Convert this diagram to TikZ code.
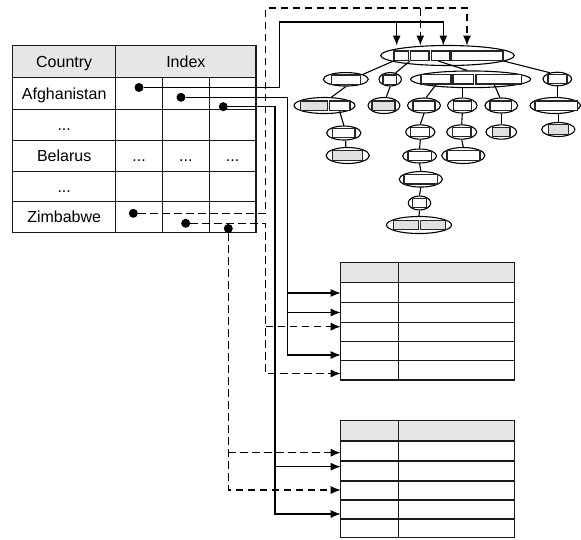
\documentclass[tikz,border=0pt]{standalone}
\usepackage{fontspec}
\setmainfont{Liberation Sans}
\usetikzlibrary{shapes.geometric,arrows.meta,calc}
\definecolor{hdr}{RGB}{230,230,230}
\definecolor{lgray}{RGB}{224,224,224}
\newcommand\mkell[5]{\node[ell,minimum width=#4pt,minimum height=#5pt] (#1) at (#2,#3) {};}
\newcommand\mkbox[5]{\node[#5,minimum width=#4pt] (#1) at (#2,#3) {};}
\begin{document}
\begin{tikzpicture}[x=1pt,y=-1pt,
  ln/.style={line width=1.2pt},
  dsh/.style={line width=1.2pt,dash pattern=on 7.5pt off 4.5pt},
  arr/.style={-{Latex[length=10pt,width=8pt]}},
  dotn/.style={circle,fill=black,inner sep=0pt,minimum size=9pt},
  txt/.style={font=\fontsize{16}{19}\selectfont,inner sep=0pt,text height=11.5pt,text depth=0pt},
  ell/.style={ellipse,draw,line width=1.1pt,fill=white,inner sep=0pt},
  bx/.style={draw=black!85,line width=1.4pt,fill=white,inner sep=0pt,minimum height=9.5pt},
  gb/.style={bx,fill=lgray},
  tgrid/.style={line width=1.2pt,draw=black!90},
  tedge/.style={line width=1.1pt},
]
\useasboundingbox (0,0) rectangle (581,539);

% ---------- left table ----------
\fill[hdr] (12.7,45.7) rectangle (256,77.3);
\draw[tgrid] (12.7,45.7) rectangle (256,232.7);
\foreach \yy in {77.3,109.3,140.7,171.7,201.7} \draw[tgrid] (12.7,\yy) -- (256,\yy);
\draw[tgrid] (115.7,45.7) -- (115.7,232.7);
\draw[tgrid] (162.5,77.3) -- (162.5,232.7);
\draw[tgrid] (209.2,77.3) -- (209.2,232.7);
\node[txt] (hcountry) at (64.2,61.5) {Country};
\node[txt] (hindex) at (185.85,61.5) {Index};
\node[txt] (afg) at (64.2,93.3) {Afghanistan};
\node[txt] (e1) at (64.2,124.7) {...};
\node[txt] (bel) at (64.2,155.7) {Belarus};
\node[txt] (be1) at (139.1,155.7) {...};
\node[txt] (be2) at (185.85,155.7) {...};
\node[txt] (be3) at (232.6,155.7) {...};
\node[txt] (e2) at (64.2,186.7) {...};
\node[txt] (zim) at (64.2,217.2) {Zimbabwe};

% ---------- table 1 ----------
\fill[hdr] (340.7,262.3) rectangle (514.3,282.3);
\draw[tgrid] (340.7,262.3) rectangle (514.3,380);
\foreach \yy in {282.3,302.3,322.3,341.3,360.5} \draw[tgrid] (340.7,\yy) -- (514.3,\yy);
\draw[tgrid] (398.3,262.3) -- (398.3,380);

% ---------- table 2 ----------
\fill[hdr] (340.7,420.7) rectangle (514.3,441);
\draw[tgrid] (340.7,420.7) rectangle (514.3,537.7);
\foreach \yy in {441,461,481,500,519} \draw[tgrid] (340.7,\yy) -- (514.3,\yy);
\draw[tgrid] (398.3,420.7) -- (398.3,537.7);

% ---------- tree ----------
\mkell{root}{447.5}{55.5}{133.6}{20}
\mkbox{rb1}{401.3}{55.6}{14.5}{bx}
\mkbox{rb2}{419.8}{55.6}{18.5}{bx}
\mkbox{rb3}{440.3}{55.6}{18}{bx}
\mkbox{rb4}{477}{55.6}{52}{bx}

\mkell{A}{345.8}{79.3}{45}{13.5}
\mkbox{ab}{346.1}{79.6}{29.2}{bx}
\mkell{B}{390.2}{79.3}{22.5}{13.5}
\mkbox{bb}{389.9}{79.6}{13.7}{bx}
\mkell{C}{470.6}{79.3}{120.2}{16.7}
\mkbox{cb1}{436}{79.2}{30}{bx}
\mkbox{cb2}{463.3}{79.2}{20.7}{bx}
\mkbox{cb3}{498.8}{79.2}{45.7}{bx}
\mkell{D}{557.3}{79}{28.7}{13.5}
\mkbox{db}{557.5}{79}{19}{bx}

\mkell{A1}{324.5}{105.5}{61}{16}
\mkbox{a1g}{313.9}{105.7}{26.8}{gb}
\mkbox{a1w}{339.6}{105.7}{20.7}{bx}
\mkell{B1}{384}{105.5}{32}{16}
\mkbox{b1g}{383.5}{105.7}{23}{gb}
\mkell{C1}{424}{105.5}{33}{15}
\mkbox{c1b}{424}{105.7}{22}{bx}
\mkell{C2}{462.3}{105.5}{29.5}{15}
\mkbox{c2b}{462.5}{105.7}{18.4}{bx}
\mkell{C3}{501.3}{105.5}{32.7}{15}
\mkbox{c3b}{500.8}{105.7}{21.7}{bx}
\mkell{D1}{555.2}{105.5}{50.3}{16}
\mkbox{d1b}{556.3}{105.7}{42.7}{bx}

\mkell{A2}{343.8}{133}{34.3}{14}
\mkbox{a2b}{343.6}{133}{22.7}{bx}
\mkell{C1a}{420.3}{132}{29.3}{14.3}
\mkbox{c1ab}{420}{132}{18.6}{bx}
\mkell{C2a}{461.7}{132}{30}{14.3}
\mkbox{c2ab}{461.9}{132}{18.4}{bx}
\mkell{C3a}{501.3}{132}{30.7}{14.3}
\mkbox{c3ab}{501.1}{132}{17.7}{gb}
\mkell{D1a}{558.3}{129.5}{33.3}{14}
\mkbox{d1ab}{558.3}{129.5}{20}{gb}

\mkell{A3}{347.7}{155.5}{43.3}{16}
\mkbox{a3b}{347.4}{155.5}{30.2}{gb}
\mkell{C1b}{419.6}{156}{33.8}{14}
\mkbox{c1bb}{419.8}{156}{23.7}{bx}
\mkell{C2b}{463.3}{155.5}{43.3}{16}
\mkbox{c2bb}{463.5}{155.5}{33}{bx}
\mkell{C1c}{420.8}{179.3}{43.3}{15.5}
\mkbox{c1cb}{420.7}{179.3}{33.5}{bx}
\mkell{C1d}{419.5}{203}{22.5}{14}
\mkbox{c1db}{419.3}{203}{14}{bx}
\mkell{C1e}{419}{225}{65}{17}
\mkbox{c1e1}{405.8}{225}{25}{gb}
\mkbox{c1e2}{433.1}{225}{24.8}{gb}

\draw[tedge] (rb1.south west) -- (A.16);
\draw[tedge] (rb2.south west) -- (B.50);
\draw[tedge] ([xshift=-2pt]rb3.south) -- (C.110);
\draw[tedge] (rb4.south east) -- (D.140);
\draw[tedge] (A.south) -- (A1.50);
\draw[tedge] (B.south) -- (B1.75);
\draw[tedge] (cb1.south) -- (C1.75);
\draw[tedge] (C2.north |- C.south) -- (C2.north);
\draw[tedge] ([xshift=-4.5pt]cb3.south) -- (C3.100);
\draw[tedge] (D.south) -- (D.south |- D1.north);
\draw[tedge] (a1w.south) -- (A2.north);
\draw[tedge] ([xshift=2pt]A2.south) -- ([xshift=-2pt]A3.north);
\draw[tedge] (C1.south) -- (C1a.north);
\draw[tedge] (C2.south) -- (C2a.north);
\draw[tedge] (C3.south) -- (C3a.north);
\draw[tedge] (D1a.north |- D1.south) -- (D1a.north);
\draw[tedge] (C1a.south) -- (C1b.north);
\draw[tedge] (C2a.south) -- (C2b.north);
\draw[tedge] (C1b.south) -- (C1c.north);
\draw[tedge] (C1c.south) -- (C1d.north);
\draw[tedge] (C1d.south) -- (C1e.north);

% ---------- dots ----------
\node[dotn] (da1) at (139,87.5) {};
\node[dotn] (da2) at (181,97.3) {};
\node[dotn] (da3) at (223.3,106.7) {};
\node[dotn] (dz1) at (133.3,213.3) {};
\node[dotn] (dz2) at (185.7,223.3) {};
\node[dotn] (dz3) at (228.3,228.5) {};

% ---------- coordinates ----------
\coordinate (in1) at (396.7,45.5);
\coordinate (in2) at (420.3,45.5);
\coordinate (in3) at (443.3,45.5);
\coordinate (in4) at (467,45.5);
\coordinate (j1) at (279.5,22);
\coordinate (j2) at (265.7,8);
\coordinate (v2) at (287.3,0);
\coordinate (v3) at (275,0);
\coordinate (v5) at (265.7,0);
\coordinate (t1a) at (340.7,293);
\coordinate (t1b) at (340.7,312.5);
\coordinate (t1c) at (340.7,326.7);
\coordinate (t1d) at (340.7,355);
\coordinate (t1e) at (340.7,373.5);
\coordinate (t2a) at (340.7,452.7);
\coordinate (t2b) at (340.7,466.7);
\coordinate (t2c) at (340.7,490);
\coordinate (t2d) at (340.7,514);

% ---------- connectors ----------
\draw[ln,arr] (da1) -| (j1) -| (in3);
\draw[ln,arr] (in1 |- j1) -- (in1);
\draw[dsh,arr] (dz1) -| (j2) -| (in4);
\draw[dsh,arr] (in2 |- j2) -- (in2);

\draw[ln,arr] (da2) -| (v2 |- t1d) -- (t1d);
\draw[ln,arr] (v2 |- t1a) -- (t1a);
\draw[ln,arr] (v2 |- t1b) -- (t1b);
\draw[dsh,arr] (dz2) -| (v5 |- t1e) -- (t1e);
\draw[dsh,arr] (v5 |- t1c) -- (t1c);

\draw[ln,arr] (da3) -| (v3 |- t2d) -- (t2d);
\draw[ln,arr] (v3 |- t2b) -- (t2b);
\draw[dsh,arr] (dz3) |- (t2c);
\draw[dsh,arr] (dz3 |- t2a) -- (t2a);
\end{tikzpicture}
\end{document}
